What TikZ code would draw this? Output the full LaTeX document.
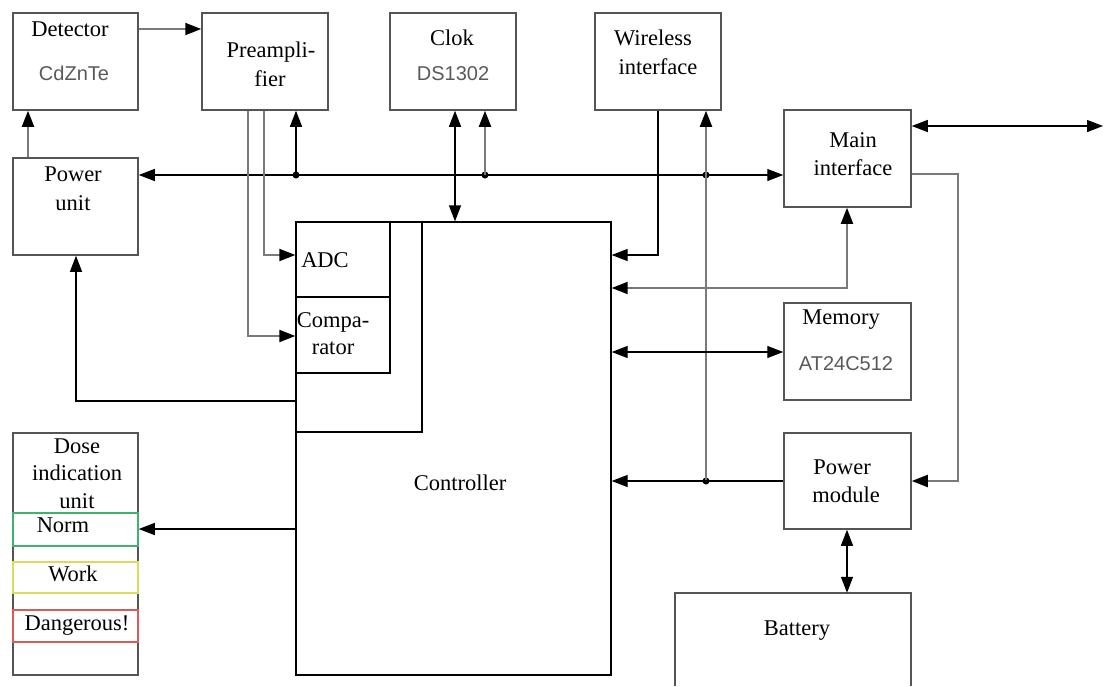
\documentclass[tikz,border=0pt]{standalone}
\usepackage{fontspec}
\setmainfont{Liberation Serif}
\newfontfamily\lsans{Liberation Sans}
\usetikzlibrary{arrows.meta}
\definecolor{boxgray}{HTML}{555555}
\definecolor{lgray}{HTML}{7A7A7A}
\definecolor{chipgray}{HTML}{595959}
\definecolor{normgreen}{HTML}{3DB36B}
\definecolor{workyellow}{HTML}{DCDC5A}
\definecolor{dangred}{HTML}{DC5A5A}
\tikzset{
  blk/.style={draw=boxgray, line width=1.5pt, rectangle, inner sep=0pt},
  txt/.style={inner sep=0pt, font=\fontsize{22.5}{26}\selectfont, text height=14pt, text depth=0pt},
  chip/.style={inner sep=0pt, font=\lsans\fontsize{20}{24}\selectfont, text=chipgray, text height=14.3pt, text depth=0pt},
  conn/.style={draw=black, line width=1.3pt},
  gconn/.style={draw=lgray, line width=1.9pt},
  >={Triangle[length=16pt,width=12pt,color=black]},
  dot/.style={circle, fill=black, inner sep=0pt, minimum size=7pt}
}
\begin{document}
\begin{tikzpicture}[x=1pt,y=-1pt]
\useasboundingbox (0,0) rectangle (1104,686);
% blocks
\node[blk, minimum width=125pt, minimum height=97pt] (det) at (75.5,61.5) {};
\node[blk, minimum width=126pt, minimum height=97pt] (pre) at (265,61.5) {};
\node[blk, minimum width=126pt, minimum height=97pt] (clk) at (453,61.5) {};
\node[blk, minimum width=126pt, minimum height=97pt] (wl) at (658,61.5) {};
\node[blk, minimum width=125pt, minimum height=97pt] (pu) at (75.5,206.5) {};
\node[blk, minimum width=127pt, minimum height=97pt] (mi) at (847.5,158.5) {};
\node[blk, minimum width=127pt, minimum height=97pt] (mem) at (847.5,351.5) {};
\node[blk, minimum width=127pt, minimum height=96pt] (pm) at (847.5,481) {};
\node[minimum width=236pt, minimum height=93pt, inner sep=0pt] (bat) at (793,639.5) {};
\draw[draw=boxgray, line width=1.5pt] (bat.south west) -- (bat.north west) -- (bat.north east) -- (bat.south east);
\node[draw=black, line width=1.3pt, rectangle, minimum width=315pt, minimum height=453pt, inner sep=0pt] (ctl) at (453.5,448.5) {};
\node[draw=black, line width=1.3pt, rectangle, minimum width=94pt, minimum height=75pt, inner sep=0pt] (adc) at (343,259.5) {};
\node[draw=black, line width=1.3pt, rectangle, minimum width=94pt, minimum height=76pt, inner sep=0pt] (cmp) at (343,335) {};
\coordinate (inA) at (422,222);
\coordinate (inB) at (422,432);
\draw[conn] (inA) -- (inB) -- (ctl.west |- inB);
\node[blk, minimum width=125pt, minimum height=242pt] (dose) at (75.5,554) {};
\node[draw=normgreen, line width=1.5pt, rectangle, minimum width=125pt, minimum height=33pt, inner sep=0pt] (norm) at (75.5,529.5) {};
\node[draw=workyellow, line width=1.5pt, rectangle, minimum width=125pt, minimum height=31pt, inner sep=0pt] (work) at (75.5,577.5) {};
\node[draw=dangred, line width=1.5pt, rectangle, minimum width=125pt, minimum height=32pt, inner sep=0pt] (dang) at (75.5,626) {};
% texts
\node[txt] (tdet) at (70,29) {Detector};
\node[chip] (tcdz) at (74,73) {CdZnTe};
\node[txt] (tpre1) at (271,50) {Preampli-};
\node[txt] (tpre2) at (270,79) {fier};
\node[txt] (tpu1) at (73,174) {Power};
\node[txt] (tpu2) at (73,203) {unit};
\node[txt] (tclk) at (452,38) {Clok};
\node[chip] (tds) at (453,73) {DS1302};
\node[txt] (twl1) at (653,38) {Wireless};
\node[txt] (twl2) at (658,67) {interface};
\node[txt] (tmi1) at (853,140) {Main};
\node[txt] (tmi2) at (853,168) {interface};
\node[txt] (tadc) at (325,260) {ADC};
\node[txt] (tcmp1) at (333,320) {Compa-};
\node[txt] (tcmp2) at (333,347) {rator};
\node[txt] (tmem) at (841,317) {Memory};
\node[chip] (tat) at (846,363) {AT24C512};
\node[txt] (tpm1) at (842,467) {Power};
\node[txt] (tpm2) at (846,495) {module};
\node[txt] (tbat) at (797,628) {Battery};
\node[txt] (tctl) at (460,483) {Controller};
\node[txt] (tdo1) at (77,446) {Dose};
\node[txt] (tdo2) at (77,473) {indication};
\node[txt] (tdo3) at (77,501) {unit};
\node[txt] (tnorm) at (63,525) {Norm};
\node[txt] (twork) at (73,574) {Work};
\node[txt] (tdang) at (77,623) {Dangerous!};
% junctions
\node[dot] (j1) at (296,175) {};
\node[dot] (j2) at (485,175) {};
\node[dot] (j3) at (706,175) {};
\node[dot] (j4) at (706,481) {};
\coordinate (ext) at (1103,126);
\coordinate (c1) at (958,481);
% connectors
\draw[gconn,->] (det.east |- 0,29) -- (pre.west |- 0,29);
\draw[gconn,->] (pu.north -| 28,0) -- (det.south -| 28,0);
\draw[conn,<->] (pu.east |- j1) -- (mi.west |- j1);
\draw[conn,->] (j1.center) -- (pre.south -| j1);
\draw[gconn,->] (j2.center) -- (clk.south -| j2);
\draw[gconn,->] (j4.center) -- (wl.south -| j4);
\draw[conn,<->] (clk.south -| 455,0) -- (ctl.north -| 455,0);
\draw[gconn,->] (pre.south -| 264,0) |- (adc.west |- 0,255);
\draw[gconn,->] (pre.south -| 248,0) |- (cmp.west |- 0,336);
\draw[conn,->] (wl.south -| 658,0) |- (ctl.east |- 0,255);
\draw[conn,->] (ctl.west |- 0,401) -| (pu.south -| 76,0);
\draw[conn,<->] (mi.east |- ext) -- (ext);
\draw[gconn,->] (mi.east |- 0,174) -| (c1) -- (pm.east |- c1);
\draw[gconn,<->] (mi.south -| 847,0) |- (ctl.east |- 0,288);
\draw[conn,<->] (ctl.east |- 0,352) -- (mem.west |- 0,352);
\draw[conn,->] (pm.west |- j4) -- (ctl.east |- j4);
\draw[conn,<->] (pm.south -| 847,0) -- (bat.north -| 847,0);
\draw[conn,->] (ctl.west |- 0,529) -- (dose.east |- 0,529);
\end{tikzpicture}
\end{document}
